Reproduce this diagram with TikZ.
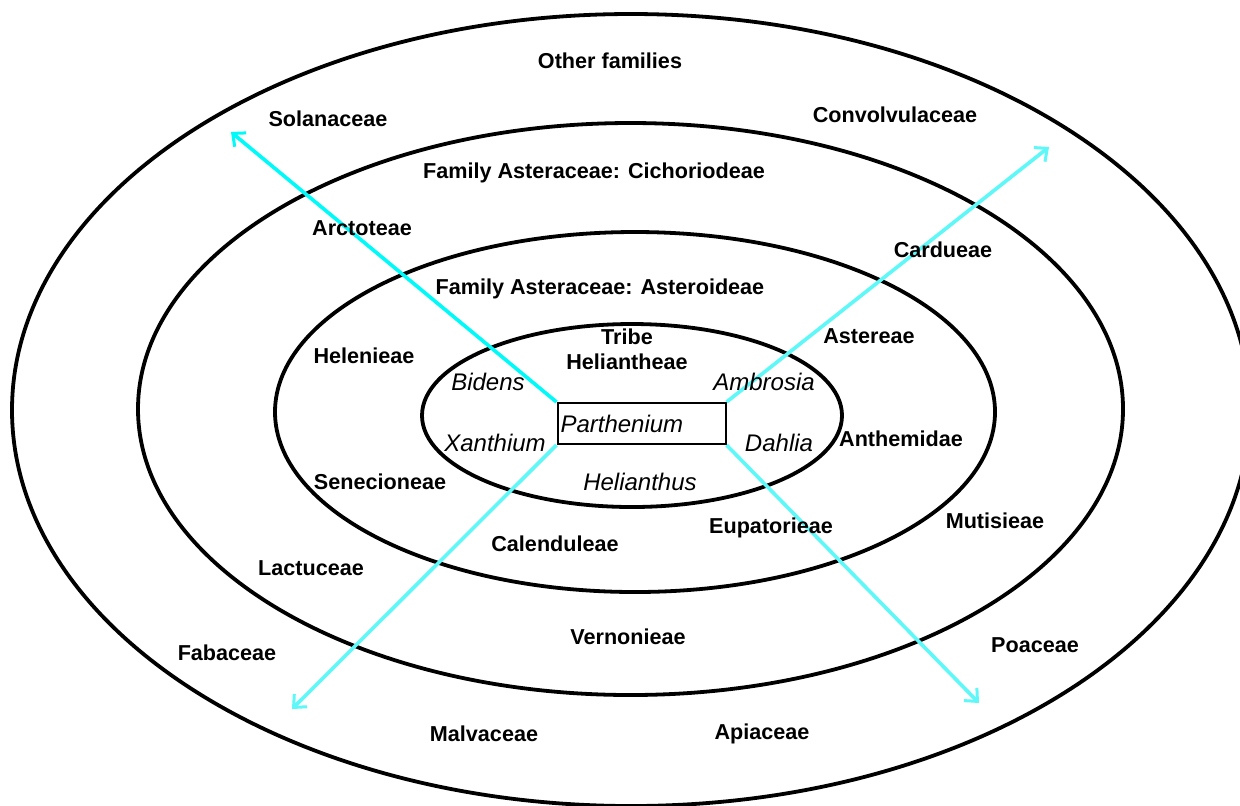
\documentclass[tikz,border=0pt]{standalone}
\usepackage{fontspec}
\setmainfont{Liberation Sans}
\usepackage{tikz}
\usetikzlibrary{arrows.meta}
\usetikzlibrary{positioning}

\definecolor{spokecyan}{RGB}{0,250,250}
\definecolor{spokelight}{RGB}{95,248,248}

\tikzset{
  lbl/.style={font=\bfseries\fontsize{10.8}{12}\selectfont, inner sep=0pt},
  genus/.style={font=\itshape\fontsize{12}{14}\selectfont, inner sep=0pt},
  ring/.style={line width=1.9pt},
  spoke/.style={line width=1.8pt, -{Straight Barb[length=5pt,width=9pt,line width=1.5pt]}}
}

\begin{document}
\begin{tikzpicture}[x=0.5pt, y=-0.5pt]
      \clip (0,0) rectangle (1240,805);
      \fill [white] (0,0) rectangle (1240,805);

      % rings
      \draw [ring] (631,410) ellipse (619 and 396);
      \draw [ring] (630.5,409) ellipse (492.5 and 286);
      \draw [ring] (635,412) ellipse (360 and 180);
      \draw [ring] (632,415.5) ellipse (210 and 91.5);

      \node [draw, line width=1pt, text width=81pt, inner xsep=1.5pt,
        minimum height=20.5pt, align=left, font=\itshape\fontsize{12}{14}\selectfont]
        (parth) at (641.5,423.5) {Parthenium};

      % free ends of the arrows
      \coordinate (nw) at (231,132);
      \coordinate (ne) at (1049,147);
      \coordinate (sw) at (292,709);
      \coordinate (se) at (979,703);

      \draw [spoke, spokecyan] (parth.north west) -- (nw);
      \draw [spoke, spokelight] (parth.north east) -- (ne);
      \draw [spoke, spokelight] (parth.south west) -- (sw);
      \draw [spoke, spokelight] (parth.south east) -- (se);

      % outer ring
      \node [lbl] (other) at (610,61) {Other families};
      \node [lbl] (solan) at (328,119) {Solanaceae};
      \node [lbl] (convo) at (895,115) {Convolvulaceae};
      \node [lbl] (faba) at (227,653) {Fabaceae};
      \node [lbl] (poa) at (1035,645) {Poaceae};
      \node [lbl] (malva) at (484,734) {Malvaceae};
      \node [lbl] (apia) at (762,734) {Apiaceae};

      % second ring
      \node [lbl] (cicho) at (594,173) {Family Asteraceae: Cichoriodeae};
      \node [lbl] (arcto) at (362,228) {Arctoteae};
      \node [lbl] (cardu) at (943,250) {Cardueae};
      \node [lbl] (mutis) at (995,521) {Mutisieae};
      \node [lbl] (lactu) at (311,568) {Lactuceae};
      \node [lbl] (verno) at (628,637) {Vernonieae};

      % third ring
      \node [lbl] (aster) at (600,289) {Family Asteraceae: Asteroideae};
      \node [lbl] (astereae) at (869,336) {Astereae};
      \node [lbl] (helen) at (364,356) {Helenieae};
      \node [lbl] (anthe) at (901,439) {Anthemidae};
      \node [lbl] (senec) at (380,482) {Senecioneae};
      \node [lbl] (eupat) at (771,528) {Eupatorieae};
      \node [lbl] (calen) at (555,544) {Calenduleae};

      % tribe
      \node [lbl, align=center] (tribe) at (627,349) {Tribe\\[0.3pt]Heliantheae};
      \node [genus] (biden) at (488,382) {Bidens};
      \node [genus] (ambro) at (764,382) {Ambrosia};
      \node [genus] (xanth) at (495,443) {Xanthium};
      \node [genus] (dahli) at (779,443) {Dahlia};
      \node [genus] (helia) at (640,482) {Helianthus};
\end{tikzpicture}
\end{document}
